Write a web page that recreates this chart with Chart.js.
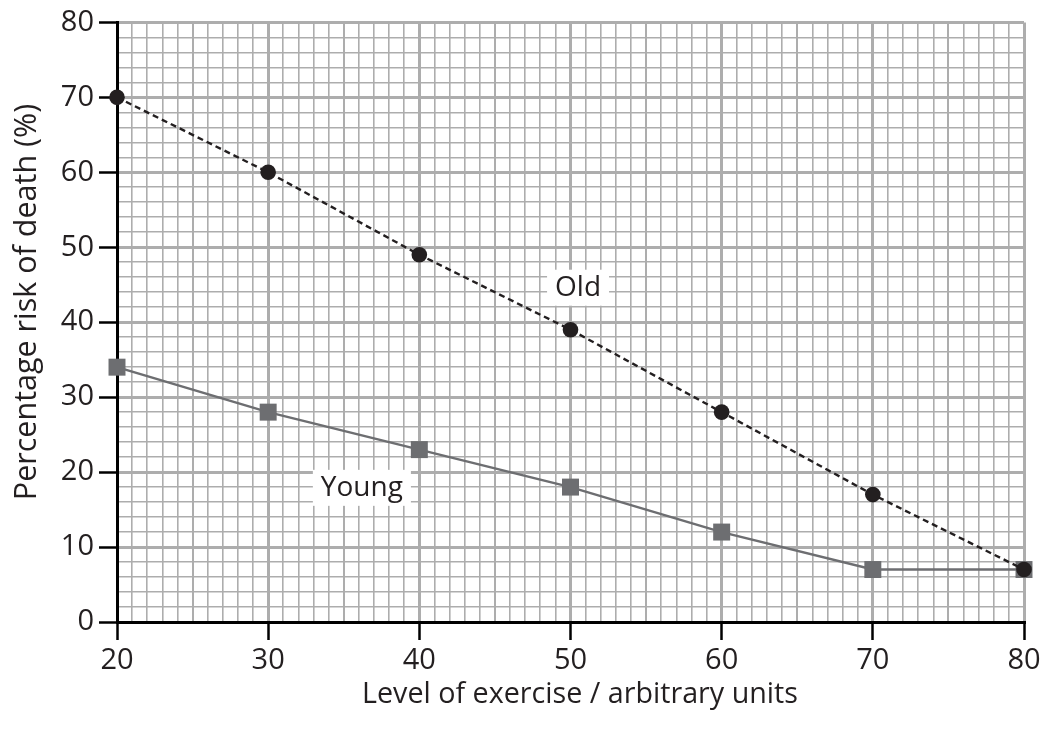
<!DOCTYPE html>
<html>
<head>
<meta charset="utf-8">
<script src="https://cdn.jsdelivr.net/npm/chart.js@4.4.1/dist/chart.umd.min.js"></script>
<style>
    html, body { margin: 0; padding: 0; background: #fff; }
    canvas { display: block; }
</style>
</head>
<body>
<canvas id="chart" width="1050" height="729"></canvas>
<script>
// exercise level (x) and risk of death (%)
const exerciseLevels = [20, 30, 40, 50, 60, 70, 80];
const oldRisk = [70, 60, 49, 39, 28, 17, 7];
const youngRisk = [34, 28, 23, 18, 12, 7, 7];

// in-plot text labels: [text, x value, y value]
const seriesLabels = [
    ['Old', 50.5, 44.6],
    ['Young', 36.2, 17.9],
];

const xTitle = 'Level of exercise / arbitrary units';
const yTitle = 'Percentage risk of death (%)';

const TEXT = '#231f20';
const GRID = '#adadad';
const FONT = '"Open Sans", "Noto Sans", sans-serif';

// white boxed text labels drawn on the grid
const labelPlugin = {
    id: 'seriesLabels',
    beforeDatasetsDraw(chart) {
        const { ctx, scales: { x, y } } = chart;
        ctx.save();
        ctx.font = '28px ' + FONT;
        ctx.textAlign = 'center';
        ctx.textBaseline = 'middle';
        seriesLabels.forEach(([text, vx, vy]) => {
            const px = x.getPixelForValue(vx);
            const py = y.getPixelForValue(vy);
            const w = ctx.measureText(text).width + 16;
            ctx.fillStyle = '#fff';
            ctx.fillRect(px - w / 2, py - 18, w, 36);
            ctx.fillStyle = TEXT;
            ctx.fillText(text, px, py);
        });
        ctx.restore();
    },
    // axis titles, placed a bit off-centre like the original
    afterDraw(chart) {
        const { ctx } = chart;
        ctx.save();
        ctx.fillStyle = TEXT;
        ctx.textAlign = 'center';
        ctx.textBaseline = 'middle';
        ctx.font = '28.7px ' + FONT;
        ctx.fillText(xTitle, 580, 695);
        ctx.translate(27, 302);
        ctx.rotate(-Math.PI / 2);
        ctx.font = '30.5px ' + FONT;
        ctx.fillText(yTitle, 0, 0);
        ctx.restore();
    }
};

const xyPoints = arr => exerciseLevels.map((v, i) => ({ x: v, y: arr[i] }));

new Chart(document.getElementById('chart'), {
    type: 'line',
    data: {
        datasets: [
            {
                label: 'Old',
                data: xyPoints(oldRisk),
                borderColor: TEXT,
                borderWidth: 2.4,
                borderDash: [6, 4],
                pointStyle: 'circle',
                pointRadius: 7.8,
                pointBackgroundColor: TEXT,
                pointBorderWidth: 0,
                tension: 0,
                clip: false,
            },
            {
                label: 'Young',
                data: xyPoints(youngRisk),
                borderColor: '#6d6e71',
                borderWidth: 2.4,
                pointStyle: 'rect',
                pointRadius: 12,
                pointBackgroundColor: '#6d6e71',
                pointBorderWidth: 0,
                tension: 0,
                clip: false,
            },
        ],
    },
    options: {
        responsive: false,
        animation: false,
        devicePixelRatio: 1,
        layout: { padding: { left: 0, right: 26, top: 18, bottom: 0 } },
        plugins: { legend: { display: false }, tooltip: { enabled: false } },
        scales: {
            x: {
                type: 'linear',
                min: 20, max: 80,
                afterFit: s => { s.height = 107; },
                border: { display: true, color: '#000', width: 3 },
                grid: {
                    color: GRID,
                    lineWidth: c => c.tick.value % 10 === 0 ? 3 : (c.tick.value % 5 === 0 ? 2 : 1.6),
                    tickLength: 18,
                    tickColor: c => c.tick.value % 10 === 0 ? '#000' : 'rgba(0,0,0,0)',
                    tickWidth: 2.5,
                },
                ticks: {
                    stepSize: 1,
                    autoSkip: false,
                    maxRotation: 0,
                    padding: 3,
                    color: TEXT,
                    font: { family: FONT, size: 29 },
                    callback: v => v % 10 === 0 ? v : '',
                },
                title: { display: false },
            },
            y: {
                type: 'linear',
                min: 0, max: 80,
                afterFit: s => { s.width = 117; },
                border: { display: true, color: '#000', width: 3 },
                grid: {
                    color: GRID,
                    lineWidth: c => c.tick.value % 10 === 0 ? 3 : 1.6,
                    tickLength: 18,
                    tickColor: c => c.tick.value % 10 === 0 ? '#000' : 'rgba(0,0,0,0)',
                    tickWidth: 2.5,
                },
                ticks: {
                    stepSize: 2,
                    autoSkip: false,
                    padding: 5,
                    color: TEXT,
                    font: { family: FONT, size: 29 },
                    callback: v => v % 10 === 0 ? v : '',
                },
                title: { display: false },
            },
        },
    },
    plugins: [labelPlugin],
});
</script>
</body>
</html>
